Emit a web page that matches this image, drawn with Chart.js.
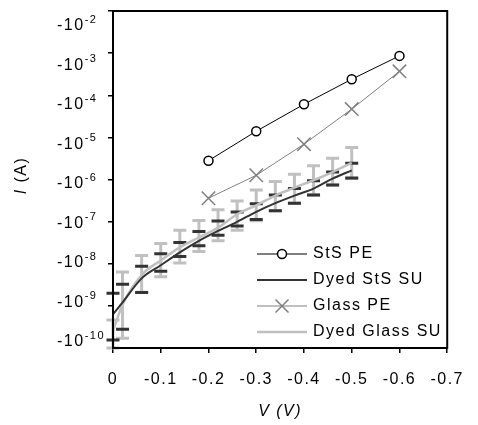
<!DOCTYPE html>
<html lang="en">
<head>
<meta charset="UTF-8">
<title>I-V curves</title>
<script src="https://cdn.jsdelivr.net/npm/chart.js"></script>
<style>
  html, body { margin: 0; padding: 0; background: #fff; }
</style>
</head>
<body>
<canvas id="ivChart" width="478" height="425"></canvas>
<script>
// potentials are stored as magnitudes, the axis labels carry the minus sign
const pePotentials = [0.2, 0.3, 0.4, 0.5, 0.6];
const stsPE = [2.8e-6, 1.4e-5, 6.1e-5, 2.4e-4, 8.6e-4];
const glassPE = [3.6e-7, 1.26e-6, 6.9e-6, 4.7e-5, 3.7e-4];

const suPotentials = [0, 0.02, 0.06, 0.10, 0.14, 0.18, 0.22, 0.26, 0.30, 0.34, 0.38, 0.42, 0.46, 0.50];
const dyedStsSU   = [6.3e-10, 1.21e-9, 4.5e-9, 9.2e-9, 1.87e-8, 3.5e-8, 6.0e-8, 9.9e-8, 1.71e-7, 2.74e-7, 4.15e-7, 6.1e-7, 1.05e-6, 1.65e-6];
const dyedStsHigh = [2.0e-9, 3.26e-9, 8.7e-9, 1.72e-8, 3.2e-8, 5.8e-8, 1.03e-7, 1.69e-7, 2.66e-7, 4.3e-7, 6.1e-7, 9.3e-7, 1.5e-6, 2.44e-6];
const dyedStsLow  = [1.55e-10, 2.8e-10, 2.07e-9, 6.65e-9, 1.49e-8, 2.69e-8, 4.77e-8, 7.85e-8, 1.12e-7, 1.82e-7, 2.74e-7, 4.3e-7, 7.4e-7, 1.09e-6];
const dyedGlassSU   = [2.56e-10, 1.07e-9, 5.4e-9, 1.2e-8, 2.45e-8, 4.2e-8, 7.2e-8, 1.5e-7, 2.43e-7, 4.15e-7, 6.4e-7, 9.6e-7, 1.5e-6, 2.48e-6];
const dyedGlassHigh = [4.6e-10, 6.4e-9, 1.57e-8, 3.04e-8, 6.2e-8, 1.07e-7, 1.92e-7, 3.1e-7, 5.6e-7, 9.0e-7, 1.33e-6, 2.13e-6, 3.2e-6, 5.75e-6];
const dyedGlassLow  = [1.0e-10, 1.7e-10, 2.1e-9, 4.9e-9, 1.04e-8, 1.95e-8, 3.5e-8, 6.2e-8, 1.05e-7, 1.8e-7, 2.74e-7, 4.3e-7, 7.4e-7, 1.05e-6];

const xTicks = [0, 0.1, 0.2, 0.3, 0.4, 0.5, 0.6, 0.7];
const yTicks = [1e-10, 1e-9, 1e-8, 1e-7, 1e-6, 1e-5, 1e-4, 1e-3, 1e-2];

const FONT = 'Arial, "Liberation Sans", sans-serif';
const DARK = '#333333';
const LIGHT = '#c0c0c0';
const GREY = '#808080';

const toPoints = (xs, ys) => xs.map((x, i) => ({ x: x, y: ys[i] }));

// error bars for the two SU series
const errorBars = {
  id: 'errorBars',
  beforeDatasetsDraw(chart) {
    const ctx = chart.ctx, xs = chart.scales.x, ys = chart.scales.y;
    const capW = 6.5;
    ctx.save();
    ctx.lineCap = 'butt';
    // dark stems (mostly hidden by the light ones)
    ctx.strokeStyle = DARK; ctx.lineWidth = 1;
    suPotentials.forEach((v, i) => {
      const px = xs.getPixelForValue(v);
      ctx.beginPath();
      ctx.moveTo(px, ys.getPixelForValue(dyedStsHigh[i]));
      ctx.lineTo(px, ys.getPixelForValue(dyedStsLow[i]));
      ctx.stroke();
    });
    // light bars with caps
    ctx.strokeStyle = LIGHT; ctx.lineWidth = 3;
    suPotentials.forEach((v, i) => {
      const px = xs.getPixelForValue(v);
      const hi = ys.getPixelForValue(dyedGlassHigh[i]);
      const lo = ys.getPixelForValue(dyedGlassLow[i]);
      ctx.beginPath();
      ctx.moveTo(px, hi); ctx.lineTo(px, lo);
      ctx.moveTo(px - capW, hi); ctx.lineTo(px + capW, hi);
      ctx.moveTo(px - capW, lo); ctx.lineTo(px + capW, lo);
      ctx.stroke();
    });
    // dark caps
    ctx.strokeStyle = DARK; ctx.lineWidth = 3;
    suPotentials.forEach((v, i) => {
      const px = xs.getPixelForValue(v);
      const hi = ys.getPixelForValue(dyedStsHigh[i]);
      const lo = ys.getPixelForValue(dyedStsLow[i]);
      ctx.beginPath();
      ctx.moveTo(px - capW, hi); ctx.lineTo(px + capW, hi);
      ctx.moveTo(px - capW, lo); ctx.lineTo(px + capW, lo);
      ctx.stroke();
    });
    ctx.restore();
  }
};

// frame, y labels with superscripts, axis titles and the legend
const decorations = {
  id: 'decorations',
  beforeDraw(chart) {
    chart.ctx.letterSpacing = '1.5px';
  },
  afterDraw(chart) {
    const ctx = chart.ctx, area = chart.chartArea, ys = chart.scales.y;
    ctx.save();
    ctx.letterSpacing = '1.5px';

    ctx.strokeStyle = '#000'; ctx.lineWidth = 2;
    ctx.strokeRect(area.left, area.top, area.right - area.left, area.bottom - area.top);

    // y tick labels: -10 with exponent
    ctx.fillStyle = '#000';
    ctx.textAlign = 'left';
    ctx.textBaseline = 'middle';
    yTicks.forEach(v => {
      const ty = ys.getPixelForValue(v);
      const ly = area.bottom - 6 - 0.939 * (area.bottom - ty);
      ctx.font = '16px ' + FONT;
      ctx.fillText('-10', 57, ly);
      const w = ctx.measureText('-10').width;
      ctx.font = '11px ' + FONT;
      ctx.fillText(String(Math.round(Math.log10(v))), 57 + w, ly - 6);
    });

    // axis titles
    ctx.textBaseline = 'middle';
    ctx.font = 'italic 16px ' + FONT;
    ctx.textAlign = 'center';
    ctx.fillText('V (V)', (area.left + area.right) / 2, 412);

    ctx.save();
    ctx.translate(22, (area.top + area.bottom) / 2 - 4);
    ctx.rotate(-Math.PI / 2);
    ctx.font = 'italic 16px ' + FONT;
    const wI = ctx.measureText('I').width;
    ctx.font = '16px ' + FONT;
    const wRest = ctx.measureText(' (A)').width;
    const start = -(wI + wRest) / 2;
    ctx.textAlign = 'left';
    ctx.font = 'italic 16px ' + FONT;
    ctx.fillText('I', start, 0);
    ctx.font = '16px ' + FONT;
    ctx.fillText(' (A)', start + wI, 0);
    ctx.restore();

    // legend
    const lx = area.left + 144, lw = 50, rowH = 26;
    const ly0 = area.top + 243;
    const items = [
      { label: 'StS PE', color: '#000', width: 1, marker: 'circle' },
      { label: 'Dyed StS SU', color: DARK, width: 2 },
      { label: 'Glass PE', color: GREY, width: 1, marker: 'cross' },
      { label: 'Dyed Glass SU', color: LIGHT, width: 2.5 }
    ];
    items.forEach((it, i) => {
      const y = ly0 + i * rowH;
      ctx.strokeStyle = it.color; ctx.lineWidth = it.width;
      ctx.beginPath(); ctx.moveTo(lx, y); ctx.lineTo(lx + lw, y); ctx.stroke();
      const cx = lx + lw / 2;
      if (it.marker === 'circle') {
        ctx.beginPath(); ctx.arc(cx, y, 4.5, 0, Math.PI * 2);
        ctx.fillStyle = '#fff'; ctx.fill();
        ctx.lineWidth = 1.5; ctx.strokeStyle = '#000'; ctx.stroke();
      } else if (it.marker === 'cross') {
        const d = 6.5;
        ctx.lineWidth = 1.5;
        ctx.beginPath();
        ctx.moveTo(cx - d, y - d); ctx.lineTo(cx + d, y + d);
        ctx.moveTo(cx + d, y - d); ctx.lineTo(cx - d, y + d);
        ctx.stroke();
      }
      ctx.fillStyle = '#000';
      ctx.font = '16px ' + FONT;
      ctx.textAlign = 'left';
      ctx.fillText(it.label, lx + lw + 6, y);
    });
    ctx.restore();
  }
};

const config = {
  type: 'line',
  data: {
    datasets: [
      {
        label: 'StS PE',
        data: toPoints(pePotentials, stsPE),
        borderColor: '#000',
        borderWidth: 1,
        pointStyle: 'circle',
        pointRadius: 4.5,
        pointBackgroundColor: '#fff',
        pointBorderColor: '#000',
        pointBorderWidth: 1.5
      },
      {
        label: 'Glass PE',
        data: toPoints(pePotentials, glassPE),
        borderColor: GREY,
        borderWidth: 1,
        pointStyle: 'crossRot',
        pointRadius: 9.5,
        pointBorderColor: GREY,
        pointBorderWidth: 1.5
      },
      {
        label: 'Dyed StS SU',
        data: toPoints(suPotentials, dyedStsSU),
        borderColor: DARK,
        borderWidth: 2,
        pointRadius: 0,
        cubicInterpolationMode: 'monotone'
      },
      {
        label: 'Dyed Glass SU',
        data: toPoints(suPotentials, dyedGlassSU),
        borderColor: LIGHT,
        borderWidth: 2.5,
        pointRadius: 0,
        cubicInterpolationMode: 'monotone'
      }
    ]
  },
  options: {
    responsive: false,
    animation: false,
    layout: { padding: { top: 6, right: 18, left: 0, bottom: 0 } },
    plugins: { legend: { display: false }, tooltip: { enabled: false } },
    scales: {
      x: {
        type: 'linear',
        min: 0,
        max: 0.7,
        afterBuildTicks: s => { s.ticks = xTicks.map(v => ({ value: v })); },
        afterFit: s => { s.height = 77; },
        ticks: {
          color: '#000',
          font: { size: 16, family: FONT },
          padding: 17,
          maxRotation: 0,
          autoSkip: false,
          callback: v => v === 0 ? '0' : '-' + v.toFixed(1)
        },
        grid: { drawOnChartArea: false, drawTicks: true, tickLength: 5, color: '#000', lineWidth: 1.5 },
        border: { color: '#000', width: 2 }
      },
      y: {
        type: 'logarithmic',
        min: 1e-10,
        max: 1e-2,
        afterBuildTicks: s => { s.ticks = yTicks.map(v => ({ value: v })); },
        afterFit: s => { s.width = 113; },
        ticks: { display: false },
        grid: { drawOnChartArea: false, drawTicks: true, tickLength: 5, color: '#000', lineWidth: 1.5 },
        border: { color: '#000', width: 2 }
      }
    }
  },
  plugins: [errorBars, decorations]
};

new Chart(document.getElementById('ivChart').getContext('2d'), config);
</script>
</body>
</html>
